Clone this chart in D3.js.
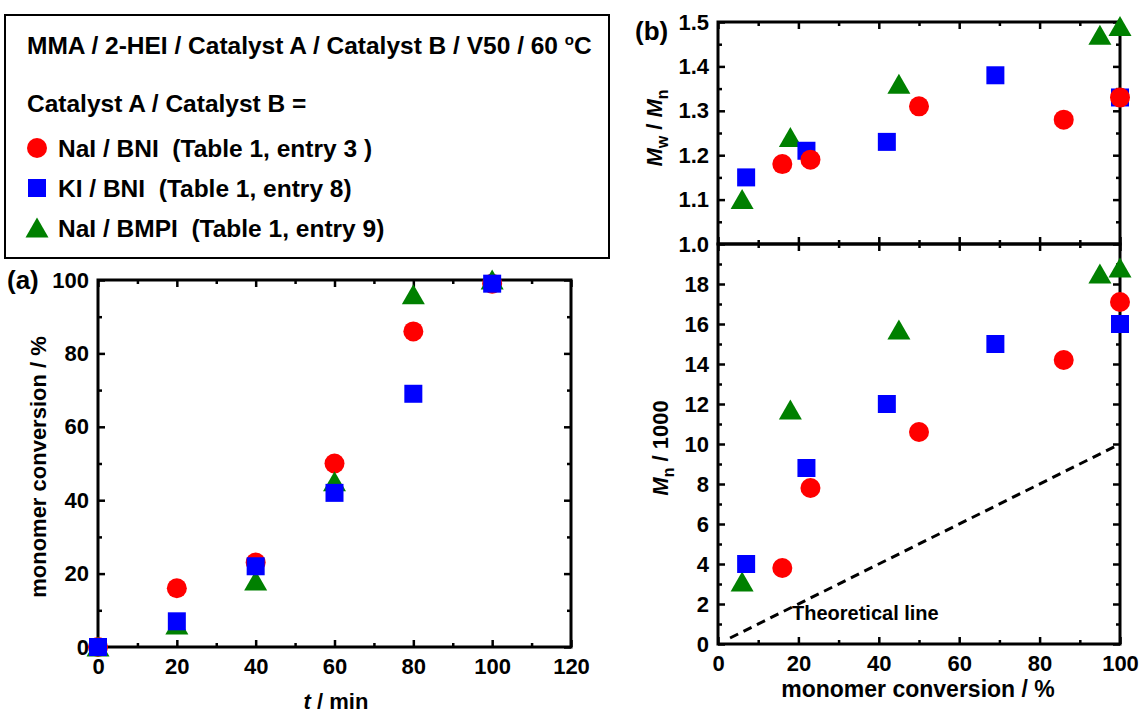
<!DOCTYPE html>
<html>
<head>
<meta charset="utf-8">
<script src="https://cdn.jsdelivr.net/npm/d3@7"></script>
<style>
  body { margin: 0; background: #fff; }
  svg text { font-family: "Liberation Sans", Arial, sans-serif; font-weight: bold; fill: #000; white-space: pre; }
</style>
</head>
<body>
<svg id="chart" width="1144" height="713"></svg>
<script>
// --- data ---
const timeMin = [0, 20, 40, 60, 80, 100];
const convNaIBNI = [0, 16, 23, 50, 86, 99];
const convKIBNI = [0, 7, 22, 42, 69, 99];
const convNaIBMPI = [0, 6, 18, 45, 96, 100];

// panel (b): x = monomer conversion
const bConvNaIBNI = [16, 23, 50, 86, 100];
const bConvKIBNI = [7, 22, 42, 69, 100];
const bConvNaIBMPI = [6, 18, 45, 95, 100];

const pdiNaIBNI = [1.18, 1.19, 1.31, 1.28, 1.33];
const pdiKIBNI = [1.15, 1.21, 1.23, 1.38, 1.33];
const pdiNaIBMPI = [1.10, 1.24, 1.36, 1.47, 1.49];

const mnNaIBNI = [3.8, 7.8, 10.6, 14.2, 17.1];
const mnKIBNI = [4.0, 8.8, 12.0, 15.0, 16.0];
const mnNaIBMPI = [3.1, 11.7, 15.7, 18.5, 18.8];

// theoretical Mn line (conversion, Mn/1000)
const theoConv = [3, 100];
const theoMn = [0.3, 10];

const legendLabels = ["NaI / BNI  (Table 1, entry 3 )", "KI / BNI  (Table 1, entry 8)", "NaI / BMPI  (Table 1, entry 9)"];

const RED = "#ff0000", BLUE = "#0000ff", GREEN = "#008000";

const svg = d3.select("#chart");

function marker(g, kind, x, y, color) {
  if (kind === "circle") {
    g.append("circle").attr("cx", x).attr("cy", y).attr("r", 10).attr("fill", color);
  } else if (kind === "square") {
    g.append("rect").attr("x", x - 9).attr("y", y - 9).attr("width", 18).attr("height", 18).attr("fill", color);
  } else {
    g.append("path").attr("d", `M${x},${y - 10.5}L${x + 11.5},${y + 9.5}L${x - 11.5},${y + 9.5}Z`).attr("fill", color);
  }
}

function series(g, xs, ys, sx, sy, kind, color) {
  xs.forEach((v, i) => marker(g, kind, sx(v), sy(ys[i]), color));
}

// draws a framed box with inward ticks on all four sides
function frame(g, x, y, xMajor, xMinor, yMajor, yMinor, opts) {
  const [x0, x1] = x.range(), [y0, y1] = y.range();
  const ax = (axis, tx, ty) => {
    const a = g.append("g").attr("transform", `translate(${tx},${ty})`).call(axis);
    a.select(".domain").remove();
    a.selectAll("line").attr("stroke", "#000").attr("stroke-width", 2.5);
    a.selectAll("text").attr("font-size", 22).attr("font-family", "Liberation Sans, Arial, sans-serif").attr("font-weight", "bold");
    return a;
  };
  const none = () => "";
  // minor
  ax(d3.axisBottom(x).tickValues(xMinor).tickSizeInner(-4).tickSizeOuter(0).tickFormat(none), 0, y0);
  ax(d3.axisTop(x).tickValues(xMinor).tickSizeInner(-4).tickSizeOuter(0).tickFormat(none), 0, y1);
  ax(d3.axisLeft(y).tickValues(yMinor).tickSizeInner(-4).tickSizeOuter(0).tickFormat(none), x0, 0);
  ax(d3.axisRight(y).tickValues(yMinor).tickSizeInner(-4).tickSizeOuter(0).tickFormat(none), x1, 0);
  // major
  const xb = d3.axisBottom(x).tickValues(xMajor).tickSizeInner(-7).tickSizeOuter(0).tickPadding(11);
  if (!opts.xLabels) xb.tickFormat(none);
  ax(xb, 0, y0);
  ax(d3.axisTop(x).tickValues(xMajor).tickSizeInner(-7).tickSizeOuter(0).tickFormat(none), 0, y1);
  ax(d3.axisLeft(y).tickValues(yMajor).tickSizeInner(-7).tickSizeOuter(0).tickPadding(9).tickFormat(opts.yFormat || null), x0, 0);
  ax(d3.axisRight(y).tickValues(yMajor).tickSizeInner(-7).tickSizeOuter(0).tickFormat(none), x1, 0);
  g.append("rect").attr("x", x0).attr("y", y1).attr("width", x1 - x0).attr("height", y0 - y1)
    .attr("fill", "none").attr("stroke", "#000").attr("stroke-width", 3);
}

// ---------- legend box ----------
const leg = svg.append("g");
leg.append("rect").attr("x", 5).attr("y", 15).attr("width", 604).attr("height", 243)
  .attr("fill", "none").attr("stroke", "#000").attr("stroke-width", 2);
const head = leg.append("text").attr("x", 27).attr("y", 54).attr("font-size", 24.5);
head.append("tspan").text("MMA / 2-HEI / Catalyst A / Catalyst B / V50 / 60 ");
head.append("tspan").attr("font-size", 15).attr("dy", -9).text("o");
head.append("tspan").attr("dy", 9).text("C");
leg.append("text").attr("x", 27).attr("y", 112).attr("font-size", 24.5).text("Catalyst A / Catalyst B =");
const legKinds = [["circle", RED], ["square", BLUE], ["triangle", GREEN]];
legendLabels.forEach((t, i) => {
  const cy = 148 + i * 40;
  marker(leg, legKinds[i][0], 37, cy, legKinds[i][1]);
  leg.append("text").attr("x", 58).attr("y", cy + 9).attr("font-size", 24.5).text(t);
});

// ---------- panel (a) ----------
const ga = svg.append("g");
const xa = d3.scaleLinear().domain([0, 120]).range([98, 571]);
const ya = d3.scaleLinear().domain([0, 100]).range([647, 280]);
frame(ga, xa, ya, d3.range(0, 121, 20), d3.range(10, 120, 20), d3.range(0, 101, 20), d3.range(10, 100, 20), { xLabels: true });
series(ga, timeMin, convNaIBNI, xa, ya, "circle", RED);
series(ga, timeMin, convNaIBMPI, xa, ya, "triangle", GREEN);
series(ga, timeMin, convKIBNI, xa, ya, "square", BLUE);
ga.append("text").attr("x", 7).attr("y", 289).attr("font-size", 26).text("(a)");
ga.append("text").attr("transform", "translate(46,467) rotate(-90)").attr("text-anchor", "middle")
  .attr("font-size", 22).text("monomer conversion / %");
const ta = ga.append("text").attr("x", 336).attr("y", 709).attr("text-anchor", "middle").attr("font-size", 22);
ta.append("tspan").attr("font-style", "italic").text("t");
ta.append("tspan").text(" / min");

// ---------- panel (b) ----------
const gb = svg.append("g");
const xb = d3.scaleLinear().domain([0, 100]).range([718, 1120]);
const yTop = d3.scaleLinear().domain([1.0, 1.5]).range([244, 22]);
const yBot = d3.scaleLinear().domain([0, 20]).range([644, 244]);
frame(gb, xb, yTop, d3.range(0, 101, 20), d3.range(10, 100, 20),
  d3.range(10, 16).map(v => v / 10), d3.range(0, 5).map(v => 1.05 + v / 10), { xLabels: false, yFormat: d3.format(".1f") });
frame(gb, xb, yBot, d3.range(0, 101, 20), d3.range(10, 100, 20),
  d3.range(0, 19, 2), d3.range(1, 20, 2), { xLabels: true });

// theoretical line
gb.append("path")
  .attr("d", d3.line().x(d => xb(d[0])).y(d => yBot(d[1]))(theoConv.map((c, i) => [c, theoMn[i]])))
  .attr("stroke", "#000").attr("stroke-width", 3).attr("stroke-dasharray", "9,6").attr("fill", "none");
gb.append("text").attr("x", 792).attr("y", 620).attr("font-size", 20).text("Theoretical line");

series(gb, bConvNaIBMPI, pdiNaIBMPI, xb, yTop, "triangle", GREEN);
series(gb, bConvKIBNI, pdiKIBNI, xb, yTop, "square", BLUE);
series(gb, bConvNaIBNI, pdiNaIBNI, xb, yTop, "circle", RED);
series(gb, bConvNaIBMPI, mnNaIBMPI, xb, yBot, "triangle", GREEN);
series(gb, bConvKIBNI, mnKIBNI, xb, yBot, "square", BLUE);
series(gb, bConvNaIBNI, mnNaIBNI, xb, yBot, "circle", RED);

gb.append("text").attr("x", 635).attr("y", 40).attr("font-size", 26).text("(b)");
const t1 = gb.append("text").attr("transform", "translate(662,128) rotate(-90)").attr("text-anchor", "middle").attr("font-size", 22);
t1.append("tspan").attr("font-style", "italic").text("M");
t1.append("tspan").attr("font-size", 16).attr("dy", 6).text("w");
t1.append("tspan").attr("dy", -6).text(" / ");
t1.append("tspan").attr("font-style", "italic").text("M");
t1.append("tspan").attr("font-size", 16).attr("dy", 6).text("n");
const t2 = gb.append("text").attr("transform", "translate(668,448) rotate(-90)").attr("text-anchor", "middle").attr("font-size", 22);
t2.append("tspan").attr("font-style", "italic").text("M");
t2.append("tspan").attr("font-size", 16).attr("dy", 6).text("n");
t2.append("tspan").attr("dy", -6).text(" / 1000");
gb.append("text").attr("x", 918).attr("y", 697).attr("text-anchor", "middle").attr("font-size", 23).text("monomer conversion / %");
</script>
</body>
</html>
